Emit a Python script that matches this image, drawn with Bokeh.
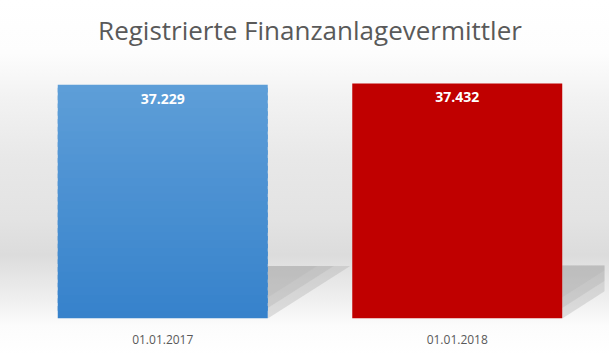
from bokeh.plotting import figure
from bokeh.models import ColumnDataSource, LabelSet, Label, Range1d, FactorRange, InlineStyleSheet
from bokeh.core.properties import value
from bokeh.embed import file_html
from bokeh.resources import INLINE
import numpy as np

categories = ["01.01.2017", "01.01.2018"]
values = [37229, 37432]
value_labels = ["37.229", "37.432"]
title_text = "Registrierte Finanzanlagevermittler"

FONT = "Open Sans"
BAR_W = 0.713
Y_MAX = 50000

p = figure(x_range=FactorRange(*categories), y_range=Range1d(0, Y_MAX),
           width=609, height=354, output_backend="svg", toolbar_location=None,
           min_border_left=15, min_border_right=5, min_border_top=4, min_border_bottom=36)
p.background_fill_alpha = 0
p.border_fill_alpha = 0
p.outline_line_color = None
p.stylesheets = [InlineStyleSheet(css=":host { background: linear-gradient(to bottom, #ffffff 0%, #fdfdfd 15%, #f2f2f2 28%, #e8e8e8 45%, #e3e3e3 62%, #dcdcdc 72%, #f0f0f0 85%, #fcfcfc 92%, #ffffff 100%); }")]

# perspective shadows to the right of each bar
for cat, v in zip(categories, values):
    h = v * 0.225
    for alpha, shrink in [(0.55, 1.0), (0.45, 0.8), (0.35, 0.6)]:
        xs = [(cat, BAR_W / 2), (cat, BAR_W / 2 + 0.28 * shrink), (cat, BAR_W / 2)]
        ys = [h, h, h - h * shrink]
        p.patch(x=xs, y=ys, fill_color="#a8a8a8", fill_alpha=alpha * 0.6, line_color=None)

# blue bar with vertical gradient (slices of its own value)
n = 30
top_c = np.array([0x5e, 0x9e, 0xd8])
bot_c = np.array([0x36, 0x82, 0xcb])
v0 = values[0]
for i in range(n):
    f0, f1 = i / n, (i + 1) / n
    c = bot_c + (top_c - bot_c) * (f0 + f1) / 2
    col = "#%02x%02x%02x" % tuple(int(round(x)) for x in c)
    p.vbar(x=[categories[0]], bottom=[v0 * f0], top=[v0 * min(1.0, f1 + 0.6 / n)], width=BAR_W,
           fill_color=col, line_color=None)

p.vbar(x=[categories[1]], top=[values[1]], width=BAR_W, fill_color="#c00000", line_color=None)

src = ColumnDataSource(dict(x=categories, y=values, t=value_labels))
p.add_layout(LabelSet(x="x", y="y", text="t", source=src, y_offset=-9,
                      text_align="center", text_baseline="top", text_color="white",
                      text_font_size="14px", text_font_style="bold", text_font=value(FONT)))

# chart title, centred over the two categories
p.add_layout(Label(x=len(categories) / 2, y=Y_MAX * 0.92, text=title_text,
                   text_align="center", text_baseline="middle", text_font=FONT,
                   text_font_size="26px", text_color="#595959"))

p.yaxis.visible = False
p.xgrid.grid_line_color = None
p.ygrid.grid_line_color = None
p.xaxis.axis_line_color = None
p.xaxis.major_tick_line_color = None
p.xaxis.minor_tick_line_color = None
p.xaxis.major_label_text_font = FONT
p.xaxis.major_label_text_font_size = "12px"
p.xaxis.major_label_text_color = "#595959"
p.xaxis.major_label_standoff = 10
p.x_range.range_padding = 0

open("out.html", "w").write(file_html(p, INLINE))
